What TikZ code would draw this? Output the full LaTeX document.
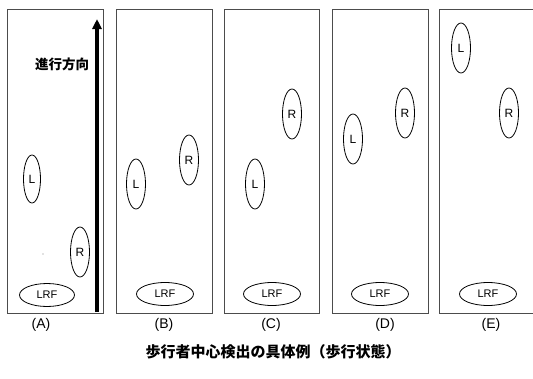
\documentclass[tikz,border=0pt]{standalone}
\usepackage{fontspec}
\setmainfont{Liberation Sans}
\newfontfamily\jp{Noto Sans CJK JP}
\usetikzlibrary{shapes.geometric,arrows.meta}
\begin{document}
\begin{tikzpicture}[x=1pt,y=-1pt,
  panel/.style={draw=black!70, line width=1pt, minimum width=96pt, minimum height=304pt, inner sep=0pt, anchor=north west},
  foot/.style={ellipse, draw, line width=0.8pt, minimum width=19pt, minimum height=50pt, inner sep=0pt, font=\fontsize{12}{12}\selectfont},
  lrf/.style={ellipse, draw, line width=0.8pt, minimum width=57pt, minimum height=23pt, inner sep=0pt, font=\fontsize{11}{11}\selectfont},
  lab/.style={font=\fontsize{14}{14}\selectfont},
  jtext/.style={font=\jp\bfseries\fontsize{13.5}{13.5}\selectfont}]
\path[use as bounding box] (0,0) rectangle (533,378);
\clip (0,0) rectangle (533,378);
% panels
\node[panel] (pA) at (7,9) {};
\node[panel] (pB) at (116,9) {};
\node[panel, minimum width=95pt] (pC) at (224,9) {};
\node[panel] (pD) at (332,9) {};
\node[panel, minimum width=104pt] (pE) at (439,9) {};
% panel A
\node[foot, minimum width=17pt, minimum height=48pt] (AL) at (32,179) {L};
\node[foot] (AR) at (80,252) {R};
\node[lrf, minimum width=55pt] (ALRF) at (47,295) {LRF};
\fill[black!50] (43,254) circle (0.6pt);
\coordinate (arS) at (97,312);
\coordinate (arE) at (97,19);
\draw[line width=3.5pt, -{Triangle[width=9pt,length=10pt]}] (arS) -- (arE);
\node[jtext] (dir) at (62,64) {進行方向};
% panel B
\node[foot] (BL) at (136,184) {L};
\node[foot] (BR) at (189,160) {R};
\node[lrf] (BLRF) at (165,294) {LRF};
% panel C
\node[foot] (CL) at (255,184) {L};
\node[foot] (CR) at (292,114) {R};
\node[lrf] (CLRF) at (272,294) {LRF};
% panel D
\node[foot] (DL) at (353,139) {L};
\node[foot] (DR) at (405,113) {R};
\node[lrf] (DLRF) at (380,294) {LRF};
% panel E
\node[foot] (EL) at (461,48) {L};
\node[foot] (ER) at (509,113) {R};
\node[lrf] (ELRF) at (488,294) {LRF};
% labels
\node[lab] (lA) at (41,325) {(A)};
\node[lab] (lB) at (164,325) {(B)};
\node[lab] (lC) at (271,325) {(C)};
\node[lab] (lD) at (385,325) {(D)};
\node[lab] (lE) at (491,325) {(E)};
\node[jtext, font=\jp\bfseries\fontsize{15}{15}\selectfont] (cap) at (273,352) {歩行者中心検出の具体例（歩行状態）};
\end{tikzpicture}
\end{document}
